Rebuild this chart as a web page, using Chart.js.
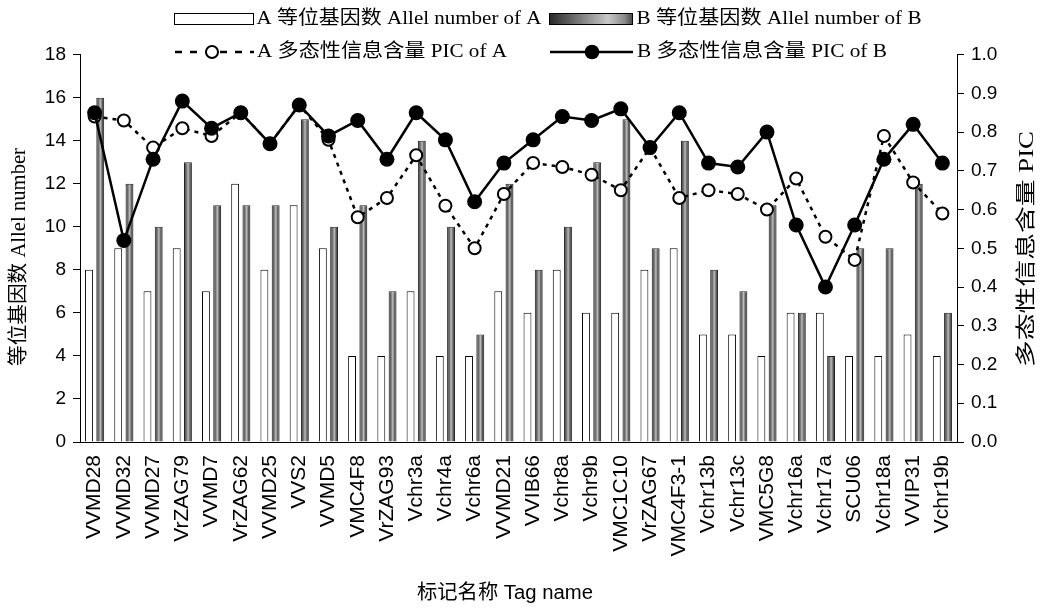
<!DOCTYPE html>
<html>
<head>
<meta charset="utf-8">
<script src="https://cdn.jsdelivr.net/npm/chart.js@4/dist/chart.umd.min.js"></script>
<style>
    body { margin: 0; background: #fff; }
    #wrap { width: 1044px; height: 609px; }
</style>
</head>
<body>
<div id="wrap"><canvas id="grafico" width="1044" height="609"></canvas></div>
<script>
// Datos
const marcadores = ["VVMD28", "VVMD32", "VVMD27", "VrZAG79", "VVMD7", "VrZAG62", "VVMD25", "VVS2", "VVMD5", "VMC4F8",
    "VrZAG93", "Vchr3a", "Vchr4a", "Vchr6a", "VVMD21", "VVIB66", "Vchr8a", "Vchr9b", "VMC1C10", "VrZAG67",
    "VMC4F3-1", "Vchr13b", "Vchr13c", "VMC5G8", "Vchr16a", "Vchr17a", "SCU06", "Vchr18a", "VVIP31", "Vchr19b"];
const alelosA = [8, 9, 7, 9, 7, 12, 8, 11, 9, 4, 4, 7, 4, 4, 7, 6, 8, 6, 6, 8, 9, 5, 5, 4, 6, 6, 4, 4, 5, 4];
const alelosB = [16, 12, 10, 13, 11, 11, 11, 15, 10, 11, 7, 14, 10, 5, 12, 8, 10, 13, 15, 9, 14, 8, 7, 11, 6, 4, 9, 9, 12, 6];
const picA = [0.84, 0.83, 0.76, 0.81, 0.79, 0.85, 0.77, 0.87, 0.78, 0.58, 0.63, 0.74, 0.61, 0.50, 0.64,
    0.72, 0.71, 0.69, 0.65, 0.76, 0.63, 0.65, 0.64, 0.60, 0.68, 0.53, 0.47, 0.79, 0.67, 0.59];
const picB = [0.85, 0.52, 0.73, 0.88, 0.81, 0.85, 0.77, 0.87, 0.79, 0.83, 0.73, 0.85, 0.78, 0.62, 0.72,
    0.78, 0.84, 0.83, 0.86, 0.76, 0.85, 0.72, 0.71, 0.80, 0.56, 0.40, 0.56, 0.73, 0.82, 0.72];

const ejeIzq = { min: 0, max: 18, paso: 2 };
const ejeDer = { min: 0, max: 1, paso: 0.1 };

const leyendas = ["A 等位基因数 Allel number of A", "B 等位基因数 Allel number of B",
    "A 多态性信息含量 PIC of A", "B 多态性信息含量 PIC of B"];
const tituloIzq = "等位基因数 Allel number";
const tituloDer = "多态性信息含量 PIC";
const tituloX = "标记名称 Tag name";

const SERIF = '"Liberation Serif", "Noto Sans CJK SC", serif';
const SANS = '"Liberation Sans", "Noto Sans CJK SC", sans-serif';
const CAT_PCT = 0.77, BAR_PCT = 0.7;

function degradado(ctx, x0, x1) {
    const g = ctx.createLinearGradient(x0, 0, x1, 0);
    g.addColorStop(0, "#3a3a3a");
    g.addColorStop(0.3, "#707070");
    g.addColorStop(0.52, "#bcbcbc");
    g.addColorStop(0.78, "#5a5a5a");
    g.addColorStop(1, "#222");
    return g;
}

// Relleno degradado de las barras B, calculado con la escala x
function fondoB(c) {
    const chart = c.chart;
    if (c.type !== "data" || !chart.chartArea) return "#777";
    const x = chart.scales.x;
    const chunk = x.width / marcadores.length * CAT_PCT / 2;
    const cx = x.getPixelForValue(c.dataIndex) + chunk / 2;
    const half = chunk * BAR_PCT / 2;
    return degradado(chart.ctx, cx - half, cx + half);
}

// Texto escalado a un ancho dado
function texto(ctx, str, x, y, ancho, rot, font) {
    ctx.save();
    ctx.font = font;
    const w = ctx.measureText(str).width;
    ctx.translate(x, y);
    ctx.rotate(rot);
    ctx.scale(ancho / w, 1);
    ctx.textAlign = "center";
    ctx.textBaseline = "middle";
    ctx.fillStyle = "#000";
    ctx.fillText(str, 0, 0);
    ctx.restore();
}

const extras = {
    id: "extras",
    afterDraw(chart) {
        const ctx = chart.ctx;
        // leyenda fila 1
        ctx.save();
        ctx.lineWidth = 1;
        ctx.strokeStyle = "#000";
        ctx.fillStyle = "#fff";
        ctx.fillRect(174.5, 13.5, 79, 11);
        ctx.strokeRect(174.5, 13.5, 79, 11);
        const g = ctx.createLinearGradient(550, 0, 633, 0);
        g.addColorStop(0, "#2a2a2a");
        g.addColorStop(0.7, "#c8c8c8");
        g.addColorStop(0.9, "#8a8a8a");
        g.addColorStop(1, "#444");
        ctx.fillStyle = g;
        ctx.fillRect(549.5, 13.5, 83, 11);
        ctx.strokeRect(549.5, 13.5, 83, 11);
        // leyenda fila 2
        ctx.lineWidth = 2.5;
        ctx.setLineDash([7, 8]);
        ctx.beginPath(); ctx.moveTo(175, 52); ctx.lineTo(254, 52); ctx.stroke();
        ctx.setLineDash([]);
        ctx.beginPath(); ctx.arc(212, 52, 6, 0, Math.PI * 2);
        ctx.fillStyle = "#fff"; ctx.fill(); ctx.lineWidth = 2; ctx.stroke();
        ctx.lineWidth = 2.5;
        ctx.beginPath(); ctx.moveTo(550, 52); ctx.lineTo(633, 52); ctx.stroke();
        ctx.beginPath(); ctx.arc(592, 52, 7.3, 0, Math.PI * 2);
        ctx.fillStyle = "#000"; ctx.fill();
        ctx.restore();

        const fl = "19px " + SERIF;
        texto(ctx, leyendas[0], 399, 19, 285, 0, fl);
        texto(ctx, leyendas[1], 779, 19, 285, 0, fl);
        texto(ctx, leyendas[2], 382, 52, 250, 0, fl);
        texto(ctx, leyendas[3], 762, 52, 250, 0, fl);

        // títulos de los ejes
        texto(ctx, tituloIzq, 20, 257, 218, -Math.PI / 2, "20px " + SERIF);
        texto(ctx, tituloDer, 1028, 249, 236, -Math.PI / 2, "20px " + SERIF);
        texto(ctx, tituloX, 505, 593, 176, 0, "20px " + SANS);
    }
};

const ctx = document.getElementById("grafico").getContext("2d");
new Chart(ctx, {
    type: "bar",
    data: {
        labels: marcadores,
        datasets: [
            {
                type: "line",
                label: leyendas[3],
                data: picB,
                yAxisID: "y1",
                borderColor: "#000",
                borderWidth: 2.5,
                pointRadius: 7.5,
                pointBackgroundColor: "#000",
                pointBorderColor: "#000",
                pointBorderWidth: 0,
                tension: 0,
                order: 1
            },
            {
                type: "line",
                label: leyendas[2],
                data: picA,
                yAxisID: "y1",
                borderColor: "#000",
                borderWidth: 2.5,
                borderDash: [4, 5],
                pointRadius: 6,
                pointBackgroundColor: "#fff",
                pointBorderColor: "#000",
                pointBorderWidth: 2,
                tension: 0,
                order: 2
            },
            {
                label: leyendas[0],
                data: alelosA,
                yAxisID: "y",
                backgroundColor: "#fff",
                borderColor: "#000",
                borderWidth: 1,
                categoryPercentage: CAT_PCT,
                barPercentage: BAR_PCT,
                order: 3
            },
            {
                label: leyendas[1],
                data: alelosB,
                yAxisID: "y",
                backgroundColor: fondoB,
                borderColor: "#222",
                borderWidth: 1,
                categoryPercentage: CAT_PCT,
                barPercentage: BAR_PCT,
                order: 4
            }
        ]
    },
    options: {
        responsive: false,
        animation: false,
        layout: { padding: { top: 54.6, left: 0, right: 0, bottom: 0 } },
        plugins: {
            legend: { display: false },
            tooltip: { enabled: false }
        },
        scales: {
            x: {
                grid: { display: false, drawTicks: false },
                border: { display: true, color: "#000", width: 1 },
                ticks: {
                    color: "#000",
                    font: { family: SANS, size: 21 },
                    minRotation: 90,
                    maxRotation: 90,
                    autoSkip: false,
                    padding: 13
                },
                afterFit: s => { s.height = 167; }
            },
            y: {
                position: "left",
                min: ejeIzq.min,
                max: ejeIzq.max,
                grid: { drawOnChartArea: false, drawTicks: true, tickLength: 7, color: "#000" },
                border: { display: true, color: "#000", width: 1 },
                ticks: {
                    stepSize: ejeIzq.paso,
                    color: "#000",
                    font: { family: SANS, size: 19 },
                    padding: 7
                },
                afterFit: s => { s.width = 80; }
            },
            y1: {
                position: "right",
                min: ejeDer.min,
                max: ejeDer.max,
                grid: { drawOnChartArea: false, drawTicks: true, tickLength: 7, color: "#000" },
                border: { display: true, color: "#000", width: 1 },
                ticks: {
                    stepSize: ejeDer.paso,
                    color: "#000",
                    font: { family: SANS, size: 19 },
                    padding: 7,
                    callback: v => v.toFixed(1)
                },
                afterFit: s => { s.width = 87; }
            }
        }
    },
    plugins: [extras]
});
</script>
</body>
</html>
